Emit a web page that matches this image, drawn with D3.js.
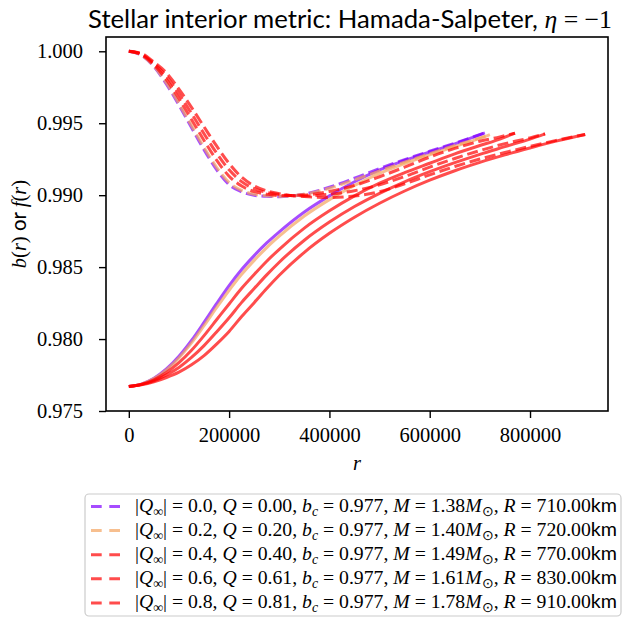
<!DOCTYPE html>
<html>
<head>
<meta charset="utf-8">
<script src="https://cdn.jsdelivr.net/npm/d3@7"></script>
<style>
  html, body { margin: 0; padding: 0; background: #ffffff; }
  svg { display: block; }
  text { white-space: pre; }
</style>
</head>
<body>
<svg id="chart" width="626" height="620"></svg>
<script>
// ---- Stellar models: one entry per |Q_inf| ----
const qInf     = [0.0, 0.2, 0.4, 0.6, 0.8];
const qSurf    = [0.00, 0.20, 0.40, 0.61, 0.81];
const bCentre  = 0.977;
const massSun  = [1.38, 1.40, 1.49, 1.61, 1.78];
const radiusKm = [710, 720, 770, 830, 910];
const seriesColors = ["#8000ff", "#f4a460", "#ff0000", "#ff0000", "#ff0000"];

// ---- Radial profiles (r in m): b(r) solid, f(r) dashed ----
const r710 = [0, 25000, 50000, 75000, 100000, 125000, 150000, 175000, 200000, 225000, 250000, 275000, 300000, 350000, 400000, 450000, 500000, 550000, 600000, 650000, 710000];
const b710 = [0.97670, 0.97687, 0.97727, 0.97792, 0.97880, 0.97990, 0.98116, 0.98246, 0.98371, 0.98483, 0.98580, 0.98668, 0.98745, 0.98883, 0.98995, 0.99093, 0.99175, 0.99241, 0.99300, 0.99357, 0.99433];
const f710 = [1.00000, 0.99973, 0.99894, 0.99772, 0.99626, 0.99470, 0.99316, 0.99178, 0.99073, 0.99023, 0.98999, 0.98992, 0.98989, 0.99008, 0.99055, 0.99118, 0.99185, 0.99247, 0.99305, 0.99361, 0.99433];

const r720 = [0, 25000, 50000, 75000, 100000, 125000, 150000, 175000, 200000, 225000, 250000, 275000, 300000, 350000, 400000, 450000, 500000, 550000, 600000, 650000, 700000, 720000];
const b720 = [0.97670, 0.97687, 0.97725, 0.97786, 0.97869, 0.97973, 0.98093, 0.98218, 0.98339, 0.98450, 0.98547, 0.98636, 0.98715, 0.98855, 0.98969, 0.99068, 0.99152, 0.99220, 0.99280, 0.99338, 0.99395, 0.99421];
const f720 = [1.00000, 0.99974, 0.99897, 0.99780, 0.99637, 0.99484, 0.99332, 0.99194, 0.99088, 0.99033, 0.99006, 0.98996, 0.98991, 0.99006, 0.99048, 0.99106, 0.99169, 0.99230, 0.99289, 0.99345, 0.99398, 0.99421];

const r770 = [0, 25000, 50000, 75000, 100000, 125000, 150000, 175000, 200000, 225000, 250000, 275000, 300000, 350000, 400000, 450000, 500000, 550000, 600000, 650000, 700000, 740000, 770000];
const b770 = [0.97670, 0.97685, 0.97717, 0.97768, 0.97836, 0.97922, 0.98024, 0.98134, 0.98244, 0.98353, 0.98449, 0.98541, 0.98624, 0.98771, 0.98891, 0.98995, 0.99083, 0.99156, 0.99222, 0.99287, 0.99345, 0.99390, 0.99431];
const f770 = [1.00000, 0.99977, 0.99906, 0.99803, 0.99670, 0.99526, 0.99380, 0.99244, 0.99132, 0.99064, 0.99025, 0.99007, 0.98997, 0.99001, 0.99026, 0.99068, 0.99128, 0.99195, 0.99265, 0.99325, 0.99375, 0.99405, 0.99431];

const r830 = [0, 25000, 50000, 75000, 100000, 125000, 150000, 175000, 200000, 225000, 250000, 275000, 300000, 350000, 400000, 450000, 500000, 550000, 600000, 650000, 700000, 750000, 800000, 830000];
const b830 = [0.97670, 0.97684, 0.97710, 0.97751, 0.97803, 0.97872, 0.97954, 0.98049, 0.98148, 0.98255, 0.98351, 0.98446, 0.98534, 0.98687, 0.98813, 0.98921, 0.99013, 0.99093, 0.99163, 0.99226, 0.99284, 0.99337, 0.99390, 0.99426];
const f830 = [1.00000, 0.99980, 0.99916, 0.99827, 0.99704, 0.99568, 0.99427, 0.99293, 0.99176, 0.99094, 0.99045, 0.99019, 0.99004, 0.98995, 0.99007, 0.99031, 0.99072, 0.99130, 0.99195, 0.99255, 0.99310, 0.99358, 0.99398, 0.99426];

const r910 = [0, 25000, 50000, 75000, 100000, 125000, 150000, 175000, 200000, 225000, 250000, 275000, 300000, 350000, 400000, 450000, 500000, 550000, 600000, 650000, 700000, 750000, 800000, 850000, 910000];
const b910 = [0.97670, 0.97682, 0.97703, 0.97733, 0.97770, 0.97821, 0.97885, 0.97965, 0.98053, 0.98157, 0.98253, 0.98351, 0.98443, 0.98603, 0.98735, 0.98847, 0.98944, 0.99029, 0.99104, 0.99170, 0.99228, 0.99280, 0.99328, 0.99374, 0.99422];
const f910 = [1.00000, 0.99985, 0.99925, 0.99850, 0.99737, 0.99610, 0.99475, 0.99342, 0.99220, 0.99125, 0.99065, 0.99030, 0.99010, 0.98990, 0.98983, 0.98994, 0.99024, 0.99079, 0.99141, 0.99199, 0.99251, 0.99297, 0.99339, 0.99379, 0.99422];

const radii   = [r710, r720, r770, r830, r910];
const bSeries = [b710, b720, b770, b830, b910];
const fSeries = [f710, f720, f770, f830, f910];

// ---- Axis ticks ----
const xTicks = [0, 200000, 400000, 600000, 800000];
const yTicks = [0.975, 0.980, 0.985, 0.990, 0.995, 1.000];

// ---- Layout ----
const W = 626, H = 620;
const plot = { left: 106, right: 608, top: 37, bottom: 411 };
const serif = "'Liberation Serif', 'Times New Roman', serif";
const sans  = "Lato, 'Liberation Sans', 'DejaVu Sans', sans-serif";
const tickFont = 20.5;

const svg = d3.select("#chart");
svg.append("rect").attr("width", W).attr("height", H).attr("fill", "#ffffff");

const x = d3.scaleLinear().domain([-45500, 955500]).range([plot.left, plot.right]);
const y = d3.scaleLinear().domain([0.975, 1.000993]).range([plot.bottom, plot.top]);

svg.append("clipPath").attr("id", "plotClip")
  .append("rect")
  .attr("x", plot.left).attr("y", plot.top)
  .attr("width", plot.right - plot.left).attr("height", plot.bottom - plot.top);

const line = d3.line()
  .x(d => x(d[0]))
  .y(d => y(d[1]))
  .curve(d3.curveMonotoneX);

const lineWidth = 3;
const dashPattern = "11,4.8";
const lineAlpha = 0.7;

// b(r) solid and f(r) dashed for each model, drawn in model order
const curves = svg.append("g").attr("clip-path", "url(#plotClip)");
radii.forEach((rs, i) => {
  const solid = rs.map((r, k) => [r, bSeries[i][k]]);
  const dashed = rs.map((r, k) => [r, fSeries[i][k]]);
  curves.append("path")
    .attr("d", line(solid))
    .attr("fill", "none")
    .attr("stroke", seriesColors[i])
    .attr("stroke-opacity", lineAlpha)
    .attr("stroke-width", lineWidth);
  curves.append("path")
    .attr("d", line(dashed))
    .attr("fill", "none")
    .attr("stroke", seriesColors[i])
    .attr("stroke-opacity", lineAlpha)
    .attr("stroke-width", lineWidth)
    .attr("stroke-dasharray", dashPattern);
});

// ---- Axes ----
const xAxis = svg.append("g")
  .attr("transform", `translate(0,${plot.bottom})`)
  .call(d3.axisBottom(x).tickValues(xTicks).tickFormat(d3.format("d")).tickSize(7).tickSizeOuter(0));
xAxis.select(".domain").remove();
xAxis.selectAll(".tick line").attr("stroke", "#000").attr("stroke-width", 1.4);
xAxis.selectAll(".tick text")
  .attr("y", 31).attr("dy", null)
  .attr("fill", "#000")
  .style("font-family", serif).style("font-size", tickFont + "px");

const yAxis = svg.append("g")
  .attr("transform", `translate(${plot.left},0)`)
  .call(d3.axisLeft(y).tickValues(yTicks).tickFormat(d3.format(".3f")).tickSize(7).tickSizeOuter(0));
yAxis.select(".domain").remove();
yAxis.selectAll(".tick line").attr("stroke", "#000").attr("stroke-width", 1.4);
yAxis.selectAll(".tick text")
  .attr("x", -23)
  .attr("fill", "#000")
  .style("font-family", serif).style("font-size", tickFont + "px");

// plot frame
svg.append("rect")
  .attr("x", plot.left).attr("y", plot.top)
  .attr("width", plot.right - plot.left).attr("height", plot.bottom - plot.top)
  .attr("fill", "none").attr("stroke", "#000").attr("stroke-width", 1.6);

// ---- Mixed-font text helper ----
function styleSpan(ts, kind, fs) {
  if (kind === "s") {
    ts.style("font-family", sans).style("font-style", "normal").style("font-size", fs + "px");
  } else if (kind === "i") {
    ts.style("font-family", serif).style("font-style", "italic").style("font-size", fs + "px");
  } else if (kind === "sub" || kind === "subi") {
    ts.style("font-family", serif).style("font-style", kind === "subi" ? "italic" : "normal")
      .style("font-size", (fs * 0.7) + "px");
  } else {
    ts.style("font-family", serif).style("font-style", "normal").style("font-size", fs + "px");
  }
}

function fillText(textSel, parts, fs) {
  textSel.selectAll("tspan").remove();
  let shifted = 0;
  parts.forEach(([str, kind]) => {
    const ts = textSel.append("tspan").text(str);
    styleSpan(ts, kind, fs);
    const isSub = kind === "sub" || kind === "subi";
    const want = isSub ? fs * 0.22 : 0;
    if (want !== shifted) { ts.attr("dy", want - shifted); shifted = want; }
  });
}

function fitText(textSel, parts, startFs, targetWidth) {
  fillText(textSel, parts, startFs);
  const w = textSel.node().getComputedTextLength();
  const fs = startFs * targetWidth / w;
  fillText(textSel, parts, fs);
  return fs;
}

// ---- Title ----
const titleParts = [
  ["Stellar interior metric: Hamada-Salpeter, ", "s"],
  ["η", "i"],
  [" = −1", "r"]
];
const title = svg.append("text").attr("x", 350).attr("y", 28).attr("text-anchor", "middle").attr("fill", "#000");
fitText(title, titleParts, 22, 524);

// ---- Axis labels ----
const xLabel = svg.append("text").attr("x", (plot.left + plot.right) / 2).attr("y", 470)
  .attr("text-anchor", "middle").attr("fill", "#000");
fillText(xLabel, [["r", "i"]], tickFont);

const yLabel = svg.append("text")
  .attr("transform", `translate(26,${(plot.top + plot.bottom) / 2}) rotate(-90)`)
  .attr("text-anchor", "middle").attr("fill", "#000");
fillText(yLabel, [["b", "i"], ["(", "r"], ["r", "i"], [")", "r"], [" or ", "s"], ["f", "i"], ["(", "r"], ["r", "i"], [")", "r"]], tickFont);

// ---- Legend ----
const legend = { left: 85, top: 494, width: 536, height: 122, row0: 506.5, rowStep: 24.1 };
svg.append("rect")
  .attr("x", legend.left).attr("y", legend.top)
  .attr("width", legend.width).attr("height", legend.height)
  .attr("rx", 4).attr("ry", 4)
  .attr("fill", "#ffffff").attr("fill-opacity", 0.8)
  .attr("stroke", "#cccccc").attr("stroke-width", 1.2);

function legendParts(i) {
  return [
    ["|", "r"], ["Q", "i"], ["∞", "sub"], ["| = " + qInf[i].toFixed(1) + ", ", "r"],
    ["Q", "i"], [" = " + qSurf[i].toFixed(2) + ", ", "r"],
    ["b", "i"], ["c", "subi"], [" = " + bCentre.toFixed(3) + ", ", "r"],
    ["M", "i"], [" = " + massSun[i].toFixed(2), "r"], ["M", "i"], ["⊙", "sub"], [", ", "r"],
    ["R", "i"], [" = " + radiusKm[i].toFixed(2), "r"], ["km", "s"]
  ];
}

qInf.forEach((q, i) => {
  const cy = legend.row0 + legend.rowStep * i;
  svg.append("line")
    .attr("x1", 91).attr("x2", 120).attr("y1", cy).attr("y2", cy)
    .attr("stroke", seriesColors[i]).attr("stroke-opacity", lineAlpha)
    .attr("stroke-width", lineWidth).attr("stroke-dasharray", "10.7,7.6");
  const t = svg.append("text").attr("x", 135).attr("y", cy + 5).attr("fill", "#000");
  fitText(t, legendParts(i), 15, 482);
});
</script>
</body>
</html>
